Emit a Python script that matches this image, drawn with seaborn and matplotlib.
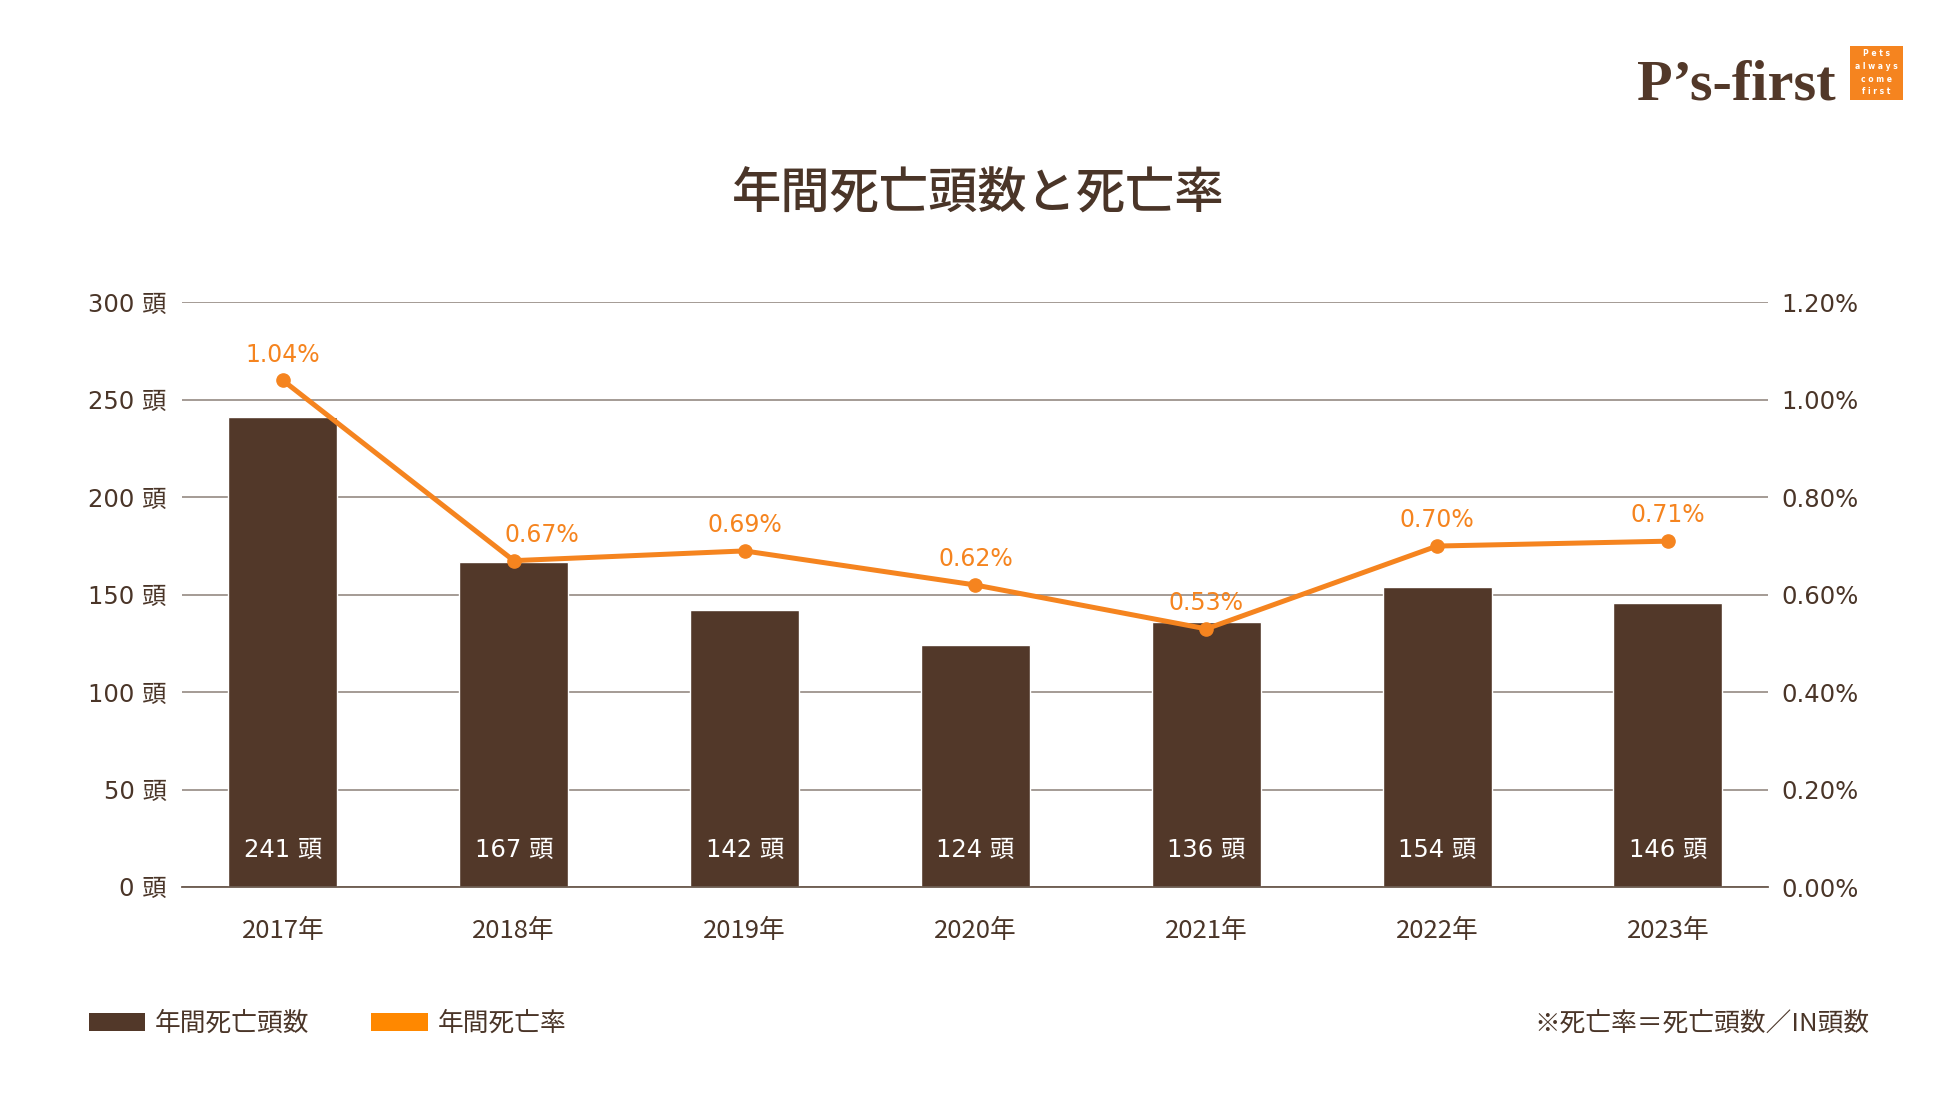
import numpy as np
import matplotlib
matplotlib.use("Agg")
import matplotlib.pyplot as plt
import seaborn as sns
from matplotlib.patches import Patch, Rectangle
from matplotlib.ticker import FuncFormatter

# data
years = ['2017年', '2018年', '2019年', '2020年', '2021年', '2022年', '2023年']
deaths = [241, 167, 142, 124, 136, 154, 146]
rates = [1.04, 0.67, 0.69, 0.62, 0.53, 0.70, 0.71]
left_ticks = [0, 50, 100, 150, 200, 250, 300]
right_ticks = [0.0, 0.2, 0.4, 0.6, 0.8, 1.0, 1.2]

brown = '#523829'
orange = '#F5841F'
text_col = '#4a3528'
grid_col = '#958a83'

sns.set_theme(style="white")
plt.rcParams['font.family'] = ['Noto Sans CJK JP', 'DejaVu Sans']
num_font = ['DejaVu Sans', 'Noto Sans CJK JP']

fig = plt.figure(figsize=(19.5, 11.06), dpi=100)
ax = fig.add_axes([0.0933, 0.198, 0.8133, 0.5285])

sns.barplot(x=years, y=deaths, color=brown, width=0.472, saturation=1, ax=ax)
ax.set_xlim(-0.4376, len(years) - 1 + 0.433)
ax.set_ylim(0, 300)
ax.set_yticks(left_ticks)
ax.set_yticklabels([f'{v} 頭' for v in left_ticks], family=num_font)
ax.yaxis.grid(True, color=grid_col, linewidth=1.2)
ax.set_axisbelow(True)
for s in ['top', 'left', 'right']:
    ax.spines[s].set_visible(False)
ax.spines['bottom'].set_color('#6b5a4e')
ax.spines['bottom'].set_linewidth(1.3)
ax.tick_params(axis='y', length=0, pad=11, labelsize=17.5, labelcolor=text_col)
ax.tick_params(axis='x', length=0, pad=22, labelsize=18.5, labelcolor=text_col)
ax.set_xlabel('')
ax.set_ylabel('')

# value labels inside bars
for i, v in enumerate(deaths):
    ax.text(i, 19, f'{v} 頭', ha='center', va='center', color='white',
            fontsize=17.5, family=num_font)

ax2 = ax.twinx()
x = np.arange(len(years))
ax2.plot(x, rates, color=orange, linewidth=3.6, marker='o', markersize=9.5, zorder=3)
ax2.set_ylim(0, 1.2)
ax2.set_yticks(right_ticks)
ax2.yaxis.set_major_formatter(FuncFormatter(lambda v, p: f'{v:.2f}%'))
ax2.tick_params(axis='y', length=0, pad=10, labelsize=17.5, labelcolor=text_col)
for lbl in ax2.get_yticklabels():
    lbl.set_family(num_font)
for s in ax2.spines.values():
    s.set_visible(False)
ax2.grid(False)
for i, r in enumerate(rates):
    dx = 20 if i == 1 else 0  # the 2018 label sits a bit to the right
    ax2.annotate(f'{r:.2f}%', (i, r), xytext=(dx, 10), textcoords='offset points',
                 ha='center', va='bottom', color=orange, fontsize=17, family=num_font)

# title
fig.text(0.5015, 0.824, '年間死亡頭数と死亡率', ha='center', va='center',
         fontsize=35.5, color=text_col, fontweight='medium')

# legend
handles = [Patch(facecolor=brown, edgecolor='none', label='年間死亡頭数'),
           Patch(facecolor='#FF8800', edgecolor='none', label='年間死亡率')]
fig.legend(handles=handles, loc='center left', bbox_to_anchor=(0.039, 0.074),
           ncol=2, frameon=False, fontsize=18.5, handlelength=2.2, handleheight=0.73,
           columnspacing=2.4, handletextpad=0.38, labelcolor=text_col, borderpad=0)

# note
fig.text(0.9588, 0.074, '※死亡率＝死亡頭数／IN頭数', ha='right', va='center',
         fontsize=18.5, color=text_col)

# logo
fig.text(0.8395, 0.9096, "P’s-first", ha='left', va='baseline', fontsize=42,
         color=brown, fontweight='bold', family=['Liberation Serif'])
fig.patches.append(Rectangle((0.9487, 0.9096), 0.0272, 0.0488, transform=fig.transFigure,
                             facecolor=orange, edgecolor='none'))
for k, w in enumerate(['P e t s', 'a l w a y s', 'c o m e', 'f i r s t']):
    fig.text(0.9623, 0.9515 - k * 0.0115, w, ha='center', va='center', fontsize=5.5,
             color='white', fontweight='bold', family=['DejaVu Sans'])

fig.savefig('out.png', dpi=100, facecolor='white')
